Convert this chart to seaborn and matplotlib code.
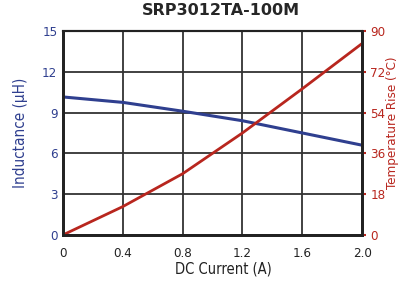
import numpy as np
import pandas as pd
import seaborn as sns
import matplotlib.pyplot as plt

current = [0.0, 0.4, 0.8, 1.2, 1.6, 2.0]
inductance = [10.15, 9.75, 9.1, 8.4, 7.5, 6.6]
temp_rise = [0.0, 12.5, 27.0, 45.0, 64.5, 84.5]

x_ticks = [0, 0.4, 0.8, 1.2, 1.6, 2.0]
x_labels = ["0", "0.4", "0.8", "1.2", "1.6", "2.0"]
l_ticks = [0, 3, 6, 9, 12, 15]
t_ticks = [0, 18, 36, 54, 72, 90]

blue = "#2f3f8f"
red = "#b8261e"

sns.set_style("white")
plt.rcParams["font.family"] = ["DejaVu Sans"]
plt.rcParams["font.stretch"] = "condensed"

df = pd.DataFrame({"current": current, "L": inductance, "T": temp_rise})

fig = plt.figure(figsize=(4.01, 2.82), dpi=100)
ax = fig.add_axes([0.157, 0.167, 0.746, 0.723])
ax2 = ax.twinx()

sns.lineplot(data=df, x="current", y="L", ax=ax, color=blue, linewidth=2.2)
sns.lineplot(data=df, x="current", y="T", ax=ax2, color=red, linewidth=2.0)

ax.set_xlim(0, 2.0)
ax.set_ylim(0, 15)
ax2.set_ylim(0, 90)
ax.set_xticks(x_ticks)
ax.set_xticklabels(x_labels)
ax.set_yticks(l_ticks)
ax2.set_yticks(t_ticks)
ax.grid(True, color="#333333", linewidth=1.3)
ax.set_axisbelow(True)

ax.tick_params(axis="x", length=0, labelsize=9.5, pad=9, colors="#222222")
ax.tick_params(axis="y", length=0, labelsize=9.5, labelcolor=blue, pad=4)
ax2.tick_params(axis="y", length=3, width=1.5, color=red, labelsize=9.5, labelcolor=red, pad=3)

ax.set_xlabel("DC Current (A)", fontsize=10.5, color="#222222")
ax.xaxis.set_label_coords(0.535, -0.13)
ax.set_ylabel("Inductance (\u00b5H)", fontsize=11, color=blue, labelpad=10)
ax2.set_ylabel("Temperature Rise (\u00b0C)", fontsize=9.5, color=red)
ax2.yaxis.set_label_coords(1.08, 0.55)

for a in (ax, ax2):
    for s in a.spines.values():
        s.set_color("#222222")
        s.set_linewidth(1.5)
    a.spines["left"].set_linewidth(2)
    a.spines["bottom"].set_linewidth(2)
    a.spines["right"].set_linewidth(2)

fig.suptitle("SRP3012TA-100M", fontsize=11.5, fontweight="bold", x=0.552, y=0.99,
             family="DejaVu Sans", fontstretch="normal")

fig.savefig("out.png", dpi=100)
